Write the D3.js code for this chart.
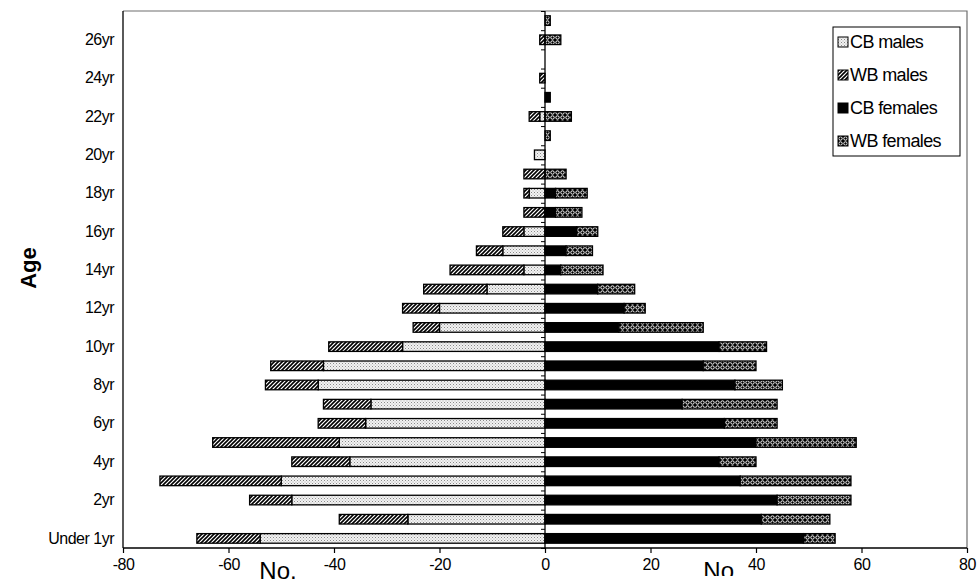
<!DOCTYPE html>
<html><head><meta charset="utf-8">
<script src="https://cdn.jsdelivr.net/npm/d3@7"></script>
<style>
body{margin:0;background:#fff;}
text{font-family:"Liberation Sans",Arial,sans-serif;}
</style></head>
<body><svg id="c" width="977" height="585"></svg>
<script>
// Data: rows 0 (Under 1yr) .. 27 (27yr)
const ageIndex = d3.range(28);
const ageLabels = ageIndex.map(i => i === 0 ? "Under 1yr" : i + "yr");
const cbMales   = [54,26,48,50,37,39,34,33,43,42,27,20,20,11,4,8,4,0,3,0,2,0,1,0,0,0,0,0];
const wbMales   = [12,13,8,23,11,24,9,9,10,10,14,5,7,12,14,5,4,4,1,4,0,0,2,0,1,0,1,0];
const cbFemales = [49,41,44,37,33,40,34,26,36,30,33,14,15,10,3,4,6,2,2,0,0,0,0,1,0,0,0,0];
const wbFemales = [6,13,14,21,7,19,10,18,9,10,9,16,4,7,8,5,4,5,6,4,0,1,5,0,0,0,3,1];
const seriesNames = ["CB males","WB males","CB females","WB females"];
const xTicks = [-80,-60,-40,-20,0,20,40,60,80];

const svg = d3.select("#c");
const L = 123, R = 967, T = 11, B = 548;
const x = d3.scaleLinear().domain([-80,80]).range([L,R]);
const y = d3.scaleBand().domain(ageIndex).range([B,T]).paddingInner(0.5).paddingOuter(0.25);
const yl = d3.scaleLinear().domain([-0.5,27.5]).range([B,T]);

// patterns
const defs = svg.append("defs");
const pCB = defs.append("pattern").attr("id","pCB").attr("patternUnits","userSpaceOnUse").attr("width",3).attr("height",3);
pCB.append("rect").attr("width",3).attr("height",3).attr("fill","#f2f2f2");
pCB.append("rect").attr("x",0).attr("y",0).attr("width",1).attr("height",1).attr("fill","#8a8a8a");
pCB.append("rect").attr("x",1.5).attr("y",1.5).attr("width",1).attr("height",1).attr("fill","#b0b0b0");

const pWB = defs.append("pattern").attr("id","pWB").attr("patternUnits","userSpaceOnUse").attr("width",4).attr("height",4);
pWB.append("rect").attr("width",4).attr("height",4).attr("fill","#fff");
pWB.append("path").attr("d","M-1,1 L1,-1 M0,4 L4,0 M3,5 L5,3").attr("stroke","#000").attr("stroke-width",1.6);

const pWF = defs.append("pattern").attr("id","pWF").attr("patternUnits","userSpaceOnUse").attr("width",5).attr("height",5);
pWF.append("rect").attr("width",5).attr("height",5).attr("fill","#000");
pWF.append("circle").attr("cx",2.5).attr("cy",2.5).attr("r",1.7).attr("fill","none").attr("stroke","#fff").attr("stroke-width",1);

const fills = ["url(#pCB)","url(#pWB)","#000","url(#pWF)"];

// plot border (top and right)
svg.append("path").attr("d",`M${L},${T}H${R}V${B}`).attr("fill","none").attr("stroke","#6e6e6e").attr("stroke-width",1.2);

// bars
const rows = ageIndex.map(i => ({i,
  segs:[
    {s:0, x0:-cbMales[i], x1:0},
    {s:1, x0:-(cbMales[i]+wbMales[i]), x1:-cbMales[i]},
    {s:2, x0:0, x1:cbFemales[i]},
    {s:3, x0:cbFemales[i], x1:cbFemales[i]+wbFemales[i]}
  ].filter(d => d.x1 - d.x0 > 0)
}));
const g = svg.append("g");
rows.forEach(r => {
  g.selectAll(null).data(r.segs).join("rect")
    .attr("x", d => x(d.x0))
    .attr("width", d => x(d.x1) - x(d.x0))
    .attr("y", y(r.i))
    .attr("height", y.bandwidth())
    .attr("fill", d => fills[d.s])
    .attr("stroke","#000").attr("stroke-width",1.3);
});

// central category axis with ticks at boundaries
const cAxis = svg.append("g").attr("transform",`translate(${x(0)},0)`)
  .call(d3.axisLeft(yl).tickValues(d3.range(-0.5,28,1)).tickSize(4).tickFormat(""));
cAxis.select(".domain").attr("stroke","#000").attr("stroke-width",1.3).attr("d",`M0,${T}V${B}`);
cAxis.selectAll(".tick line").attr("stroke","#000").attr("stroke-width",1);

// left axis with labels
const lAxis = svg.append("g").attr("transform",`translate(${L},0)`)
  .call(d3.axisLeft(y).tickValues(ageIndex.filter(i => i%2===0)).tickSize(0).tickPadding(9).tickFormat(i => ageLabels[i]));
lAxis.select(".domain").attr("stroke","#000").attr("stroke-width",1.3).attr("d",`M0,${T}V${B}`);
lAxis.selectAll("text").attr("font-size",16).attr("letter-spacing","-0.5").attr("fill","#000")
  .attr("font-family","'Liberation Sans',Arial,sans-serif");

// bottom axis
const bAxis = svg.append("g").attr("transform",`translate(0,${B})`)
  .call(d3.axisBottom(x).tickValues(xTicks).tickSize(5).tickPadding(6).tickFormat(d => String(d)));
bAxis.select(".domain").attr("stroke","#000").attr("stroke-width",1.3).attr("d",`M${L},0H${R}`);
bAxis.selectAll(".tick line").attr("stroke","#000").attr("stroke-width",1.2);
bAxis.selectAll("text").attr("font-size",16).attr("letter-spacing","-0.5").attr("fill","#000")
  .attr("font-family","'Liberation Sans',Arial,sans-serif");

// axis titles
svg.append("text").attr("transform","translate(36,268) rotate(-90)").attr("text-anchor","middle")
  .attr("font-size",22).attr("font-weight","bold").text("Age");
svg.append("text").attr("x",278).attr("y",579).attr("text-anchor","middle")
  .attr("font-family","'Liberation Serif','Times New Roman',serif").attr("font-size",24).text("No.");
defs.append("clipPath").attr("id","clipNo").append("rect").attr("x",600).attr("y",540).attr("width",250).attr("height",36);
svg.append("text").attr("x",722).attr("y",579).attr("text-anchor","middle").attr("clip-path","url(#clipNo)")
  .attr("font-family","'Liberation Serif','Times New Roman',serif").attr("font-size",24).text("No.");

// legend
const lg = svg.append("g");
lg.append("rect").attr("x",833).attr("y",27).attr("width",127).attr("height",129)
  .attr("fill","#fff").attr("stroke","#000").attr("stroke-width",1);
const li = lg.selectAll(".li").data(seriesNames).join("g").attr("class","li")
  .attr("transform",(d,i) => `translate(838,${42 + i*33})`);
li.append("rect").attr("x",0).attr("y",-5).attr("width",10).attr("height",10)
  .attr("fill",(d,i) => fills[i]).attr("stroke","#000").attr("stroke-width",1);
li.append("text").attr("x",12).attr("y",0).attr("dy","0.35em").attr("font-size",18)
  .attr("letter-spacing","-0.6").text(d => d);
</script></body></html>
